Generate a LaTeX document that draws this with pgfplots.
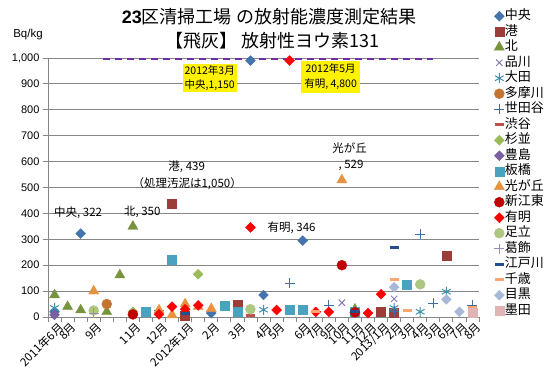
\documentclass[border=0pt]{standalone}
\usepackage{pgfplots}
\pgfplotsset{compat=1.18}
\usepackage{fontspec}
\setmainfont{Liberation Sans}
\newfontfamily\cjk{Noto Sans CJK JP}
\definecolor{cgrid}{HTML}{868686}
\definecolor{cChuo}{HTML}{4573AC}
\definecolor{cMinato}{HTML}{9C3D3A}
\definecolor{cKita}{HTML}{77933C}
\definecolor{cShina}{HTML}{8A7BAE}
\definecolor{cOta}{HTML}{3E91AA}
\definecolor{cTama}{HTML}{C47432}
\definecolor{cSeta}{HTML}{3E6DAA}
\definecolor{cShibu}{HTML}{C0504D}
\definecolor{cSugi}{HTML}{9BBB59}
\definecolor{cToshi}{HTML}{7A5FA0}
\definecolor{cItabashi}{HTML}{4AA3BE}
\definecolor{cHikari}{HTML}{E8913F}
\definecolor{cShinko}{HTML}{C00000}
\definecolor{cAriake}{HTML}{FF0000}
\definecolor{cAdachi}{HTML}{ADC783}
\definecolor{cKatsu}{HTML}{9F88C0}
\definecolor{cEdo}{HTML}{254E8E}
\definecolor{cChitose}{HTML}{FAA66E}
\definecolor{cMeguro}{HTML}{A8B9D8}
\definecolor{cSumida}{HTML}{E0B4B4}
\definecolor{cdash}{HTML}{7030A0}
\begin{document}
\begin{tikzpicture}[x=1pt,y=1pt]
\begin{axis}[
  at={(48pt,69pt)}, anchor=south west, scale only axis,
  width=431pt, height=259pt,
  xmin=-0.5, xmax=32.5, ymin=0, ymax=1000,
  clip=false,
  axis lines*=left,
  axis line style={draw=cgrid, line width=0.8pt},
  tick align=outside, major tick length=5pt,
  tick style={draw=cgrid, line width=0.8pt},
  ytick={0,100,...,1000},
  ymajorgrids, grid style={draw=cgrid, line width=0.8pt},
  /pgf/number format/assume math mode=true,
  /pgf/number format/1000 sep={,},
  yticklabel style={font=\fontsize{11}{12}\selectfont},
  xtick={-0.5,0.5,...,32.5}, xticklabels={},
  extra x ticks={0,...,32},
  extra x tick labels={2011年6月,8月,,9月,,,11月,,12月,,2012年1月,,2月,,3月,,4月,5月,,6月,7月,9月,10月,11月,12月,2013/1月,2月,3月,4月,5月,6月,7月,8月},
  extra x tick style={major tick length=0pt, tick style={draw=none}},
  xticklabel style={rotate=45, anchor=north east, inner sep=1pt, yshift=-4pt, font=\cjk\fontsize{11.5}{12}\selectfont},
  legend image code/.code={\draw[mark repeat=2,mark phase=2,#1] plot coordinates {(0cm,0cm) (0.15cm,0cm) (0.3cm,0cm)};},
  legend cell align=left,
  legend style={at={(1.035,1.192)}, anchor=north west, draw=none, fill=none, inner sep=0pt,
    font=\cjk\fontsize{13}{14}\selectfont, row sep=0pt,
    nodes={inner sep=0.5pt, text height=11pt, text depth=3.5pt},
    /tikz/every even column/.append style={column sep=2pt}},
]
\addplot[forget plot, cdash, line width=2pt, dash pattern=on 7pt off 5pt] coordinates {(3.7,996) (29.0,996)};
% 中央
\addplot[only marks, color=cChuo, mark=square*, mark size=3.5pt, mark options={rotate=45}] coordinates {(0,20) (2,322) (12,15) (15,990) (16,85) (19,295)};
\addlegendentry{中央}
% 港
\addplot[only marks, color=cMinato, mark=square*, mark size=4.5pt] coordinates {(9,439) (10,5) (14,47) (25,20) (26,18) (30,235)};
\addlegendentry{港}
% 北
\addplot[only marks, color=cKita, mark=triangle*, mark size=5.8pt] coordinates {(0,85) (1,40) (2,27) (4,20) (5,162) (6,350) (23,30)};
\addlegendentry{北}
% 品川
\addplot[only marks, color=cShina, mark=x, mark size=4.5pt, mark options={line width=1pt}] coordinates {(22,55) (26,70)};
\addlegendentry{品川}
% 大田
\addplot[only marks, color=cOta, mark=asterisk, mark size=5pt, mark options={line width=1pt}] coordinates {(0,35) (16,28) (26,35) (28,20) (30,98)};
\addlegendentry{大田}
% 多摩川
\addplot[only marks, color=cTama, mark=*, mark size=5pt] coordinates {(4,50)};
\addlegendentry{多摩川}
% 世田谷
\addplot[only marks, color=cSeta, mark=+, mark size=5pt, mark options={line width=1pt}] coordinates {(8,25) (18,130) (21,46) (26,22) (28,320) (29,53) (32,46)};
\addlegendentry{世田谷}
% 渋谷
\addplot[only marks, color=cShibu, mark=-, mark size=4.5pt, mark options={line width=3pt}] coordinates {(15,5)};
\addlegendentry{渋谷}
% 杉並
\addplot[only marks, color=cSugi, mark=square*, mark size=3.5pt, mark options={rotate=45}] coordinates {(6,20) (11,165)};
\addlegendentry{杉並}
% 豊島
\addplot[only marks, color=cToshi, mark=square*, mark size=3.5pt, mark options={rotate=45}] coordinates {(0,8)};
\addlegendentry{豊島}
% 板橋
\addplot[only marks, color=cItabashi, mark=square*, mark size=4.5pt] coordinates {(7,22) (9,222) (13,44) (14,20) (18,30) (19,30) (23,20) (27,123)};
\addlegendentry{板橋}
% 光が丘
\addplot[only marks, color=cHikari, mark=triangle*, mark size=5.8pt] coordinates {(3,100) (8,27) (9,8) (10,50) (11,40) (12,32) (22,529)};
\addlegendentry{光が丘}
% 新江東
\addplot[only marks, color=cShinko, mark=*, mark size=5pt] coordinates {(6,10) (22,200) (23,18)};
\addlegendentry{新江東}
% 有明
\addplot[only marks, color=cAriake, mark=square*, mark size=3.5pt, mark options={rotate=45}] coordinates {(8,10) (9,40) (10,30) (11,45) (15,346) (17,27) (18,990) (20,20) (21,20) (24,15) (25,88)};
\addlegendentry{有明}
% 足立
\addplot[only marks, color=cAdachi, mark=*, mark size=5pt] coordinates {(3,25) (15,30) (28,126)};
\addlegendentry{足立}
% 葛飾
\addplot[only marks, color=cKatsu, mark=+, mark size=5pt, mark options={line width=1pt}] coordinates {(3,15)};
\addlegendentry{葛飾}
% 江戸川
\addplot[only marks, color=cEdo, mark=-, mark size=4.5pt, mark options={line width=3pt}] coordinates {(10,15) (23,20) (26,269)};
\addlegendentry{江戸川}
% 千歳
\addplot[only marks, color=cChitose, mark=-, mark size=4.5pt, mark options={line width=3pt}] coordinates {(20,20) (26,143) (27,27) (32,37)};
\addlegendentry{千歳}
% 目黒
\addplot[only marks, color=cMeguro, mark=square*, mark size=3.5pt, mark options={rotate=45}] coordinates {(26,115) (30,68) (31,20)};
\addlegendentry{目黒}
% 墨田
\addplot[only marks, color=cSumida, mark=square*, mark size=4.5pt] coordinates {(32,17)};
\addlegendentry{墨田}
% annotations
\node[font=\cjk\fontsize{11.5}{12}\selectfont] at (axis cs:1.81,401) {中央, 322};
\node[font=\cjk\fontsize{11.5}{12}\selectfont] at (axis cs:6.72,405) {北, 350};
\node[font=\cjk\fontsize{11.5}{12}\selectfont] at (axis cs:10.12,580) {港, 439};
\node[font=\cjk\fontsize{11.5}{12}\selectfont] at (axis cs:10.16,516) {（処理汚泥は1,050）};
\node[font=\cjk\fontsize{11.5}{12}\selectfont, anchor=west] at (axis cs:16.05,345) {有明, 346};
\node[font=\cjk\fontsize{11.5}{12}\selectfont] at (axis cs:22.6,651) {光が丘};
\node[font=\cjk\fontsize{11.5}{12}\selectfont] at (axis cs:22.7,587) {, 529};
\node[fill=yellow, font=\cjk\fontsize{10.5}{14}\selectfont, align=center, inner sep=2pt] at (axis cs:11.88,923) {2012年3月\\中央,1,150};
\node[fill=yellow, font=\cjk\fontsize{10.5}{15}\selectfont, align=center, inner sep=3pt] at (axis cs:21.14,927) {2012年5月\\有明, 4,800};
\end{axis}
\node[font=\cjk\fontsize{18}{20}\selectfont] at (269pt,369pt) {{\fontspec{Liberation Sans}\bfseries 23}区清掃工場 の放射能濃度測定結果};
\node[font=\cjk\fontsize{18}{20}\selectfont] at (272pt,345pt) {【飛灰】 放射性ヨウ素131};
\node[font=\fontsize{11.5}{13}\selectfont] at (28pt,351pt) {Bq/kg};
\pgfresetboundingbox
\path[use as bounding box] (0,0) rectangle (554pt,386pt);
\end{tikzpicture}
\end{document}
